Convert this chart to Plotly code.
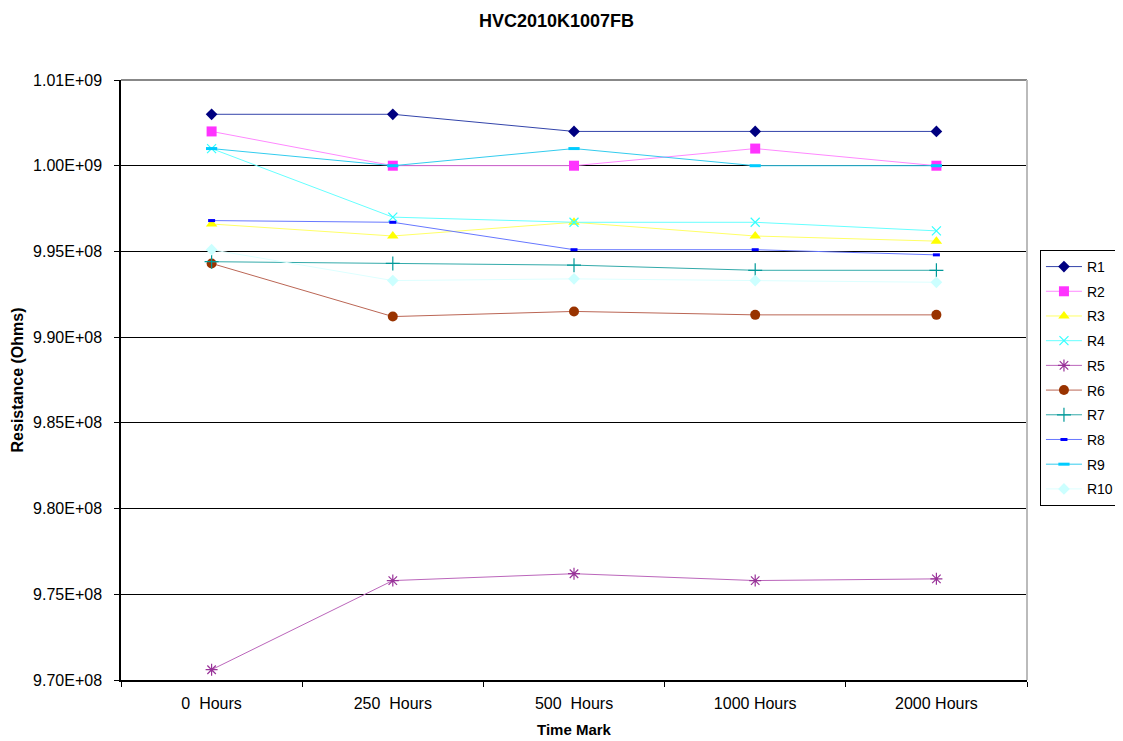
import plotly.graph_objects as go

CATEGORIES = ["0\u00a0 Hours", "250\u00a0 Hours", "500\u00a0 Hours", "1000 Hours", "2000 Hours"]

R1 = [1.0030e9, 1.0030e9, 1.0020e9, 1.0020e9, 1.0020e9]
R2 = [1.0020e9, 1.0000e9, 1.0000e9, 1.0010e9, 1.0000e9]
R3 = [9.966e8, 9.959e8, 9.967e8, 9.959e8, 9.956e8]
R4 = [1.0010e9, 9.970e8, 9.967e8, 9.967e8, 9.962e8]
R5 = [9.706e8, 9.758e8, 9.762e8, 9.758e8, 9.759e8]
R6 = [9.943e8, 9.912e8, 9.915e8, 9.913e8, 9.913e8]
R7 = [9.944e8, 9.943e8, 9.942e8, 9.939e8, 9.939e8]
R8 = [9.968e8, 9.967e8, 9.951e8, 9.951e8, 9.948e8]
R9 = [1.0010e9, 1.0000e9, 1.0010e9, 1.0000e9, 1.0000e9]
R10 = [9.951e8, 9.933e8, 9.934e8, 9.933e8, 9.932e8]

SERIES_NAMES = ["R1", "R2", "R3", "R4", "R5", "R6", "R7", "R8", "R9", "R10"]
SERIES_VALUES = [R1, R2, R3, R4, R5, R6, R7, R8, R9, R10]

Y_TICK_VALUES = [9.70e8, 9.75e8, 9.80e8, 9.85e8, 9.90e8, 9.95e8, 1.000e9, 1.005e9]
Y_TICK_LABELS = ["9.70E+08", "9.75E+08", "9.80E+08", "9.85E+08", "9.90E+08",
                 "9.95E+08", "1.00E+09", "1.01E+09"]

STYLES = [
    dict(color="#000080", symbol="diamond", size=9, lw=0),
    dict(color="#FF33FF", symbol="square", size=10, lw=0),
    dict(color="#FFFF00", symbol="triangle-up", size=10, lw=0),
    dict(color="#33FFFF", symbol="x-thin-open", size=9, lw=1.2),
    dict(color="#993399", symbol="asterisk-open", size=10, lw=1.2),
    dict(color="#993300", symbol="circle", size=10, lw=0),
    dict(color="#009999", symbol="cross-thin-open", size=10, lw=1.2),
    dict(color="#0000FF", symbol="line-ew-open", size=5, lw=3),
    dict(color="#00CCFF", symbol="line-ew-open", size=8, lw=3),
    dict(color="#CCFFFF", symbol="diamond", size=9, lw=0),
]
LINE_COLORS = ["#3344AA", "#FF88FF", "#FFFF66", "#66FFFF", "#BB66BB",
               "#BB6655", "#33AAAA", "#6677FF", "#33CCEE", "#DDFFFF"]

FONT = "Arial, Liberation Sans, sans-serif"

fig = go.Figure()
for i, (name, vals) in enumerate(zip(SERIES_NAMES, SERIES_VALUES)):
    s = STYLES[i]
    fig.add_trace(go.Scatter(
        x=CATEGORIES, y=vals, name=name, mode="lines+markers",
        legendgroup=name,
        line=dict(color=LINE_COLORS[i], width=1),
        marker=dict(symbol=s["symbol"], size=s["size"], color=s["color"],
                    line=dict(color=s["color"], width=s["lw"])),
    ))

# page is offset by the 8px default body margin; margins compensate for it
fig.update_layout(
    width=1123, height=741,
    margin=dict(l=113, r=102, t=72, b=69),
    paper_bgcolor="white", plot_bgcolor="white",
    font=dict(family=FONT, size=16, color="black"),
    title=dict(text="<b>HVC2010K1007FB</b>", x=0.4884, xref="container", xanchor="center",
               y=0.9825, yanchor="middle", font=dict(size=18, family=FONT)),
    showlegend=True,
    legend=dict(x=1.0143, xanchor="left", y=0.7167, yanchor="top",
                bordercolor="black", borderwidth=1, bgcolor="white",
                font=dict(size=14, family=FONT), traceorder="grouped",
                tracegroupgap=3.5, itemwidth=36, entrywidth=80),
)
fig.update_xaxes(
    type="category", range=[-0.5, 4.5], tickson="boundaries",
    ticks="outside", ticklen=5, tickcolor="black", automargin=False,
    showline=True, linecolor="black", linewidth=1.5, showgrid=False,
    tickfont=dict(size=16, family=FONT), ticklabelstandoff=8,
    title=dict(text="<b>Time Mark</b>", font=dict(size=15, family=FONT), standoff=14),
)
fig.update_yaxes(
    range=[9.70e8, 1.005e9], tickvals=Y_TICK_VALUES, ticktext=Y_TICK_LABELS,
    ticks="outside", ticklen=5, tickcolor="black", automargin=False,
    showline=True, linecolor="black", linewidth=1.5,
    showgrid=True, gridcolor="black", gridwidth=1, zeroline=False,
    tickfont=dict(size=16, family=FONT), ticklabelstandoff=9,
    title=dict(text="<b>Resistance (Ohms)</b>", font=dict(size=16, family=FONT), standoff=5),
)
fig.add_shape(type="line", xref="paper", yref="paper", x0=0, x1=1, y0=1, y1=1,
              line=dict(color="#888888", width=2), layer="above")
fig.add_shape(type="line", xref="paper", yref="paper", x0=1, x1=1, y0=0, y1=1,
              line=dict(color="#BBBBBB", width=2), layer="above")

fig.write_html("out.html")
